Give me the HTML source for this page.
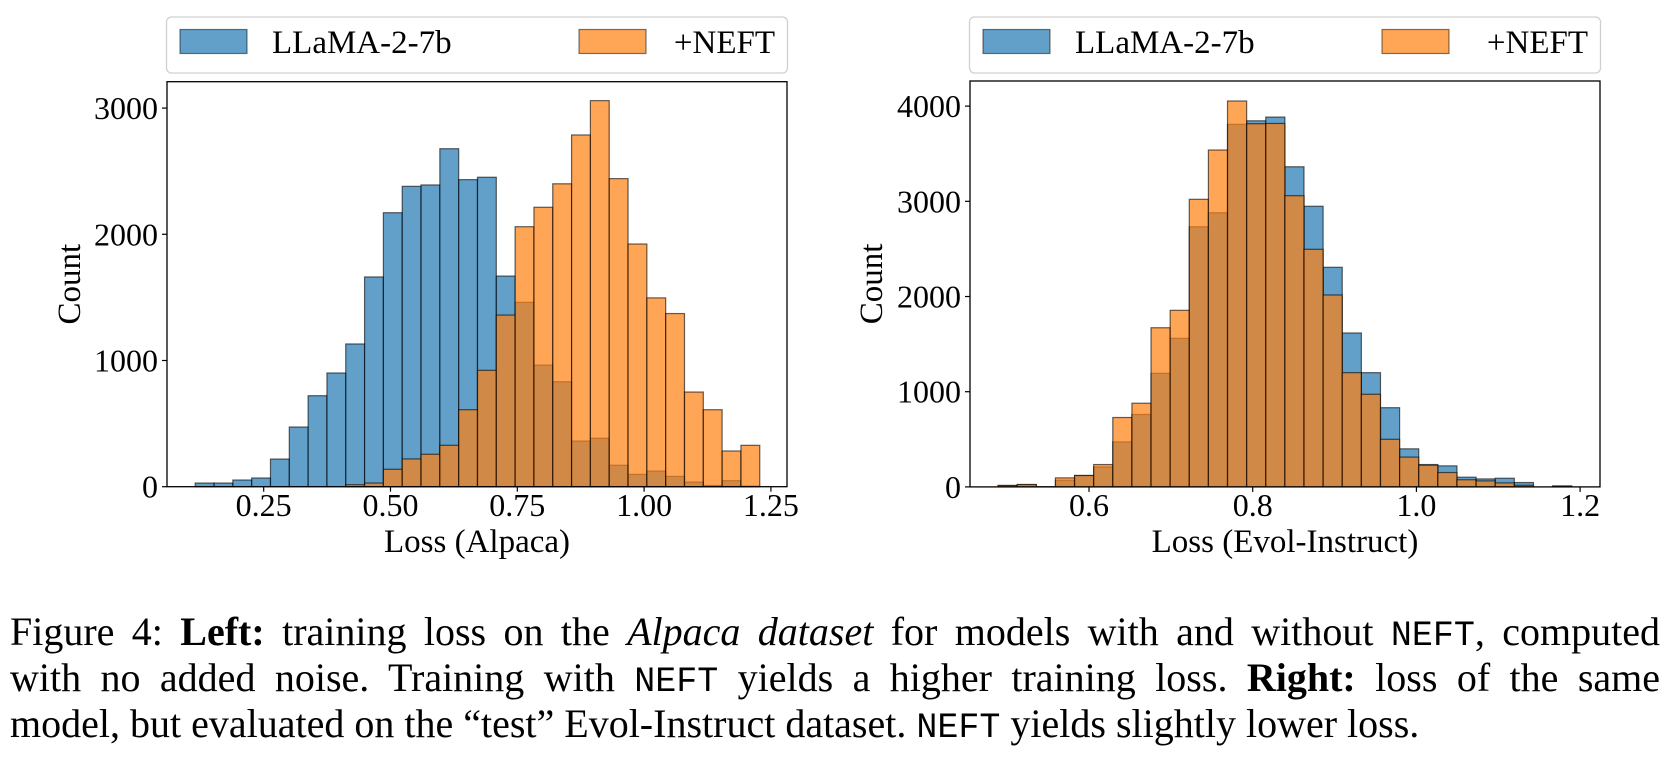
<!DOCTYPE html>
<html><head><meta charset="utf-8">
<style>
body{margin:0;background:#fff;width:1667px;height:761px;overflow:hidden;position:relative;font-family:"Liberation Serif","Times New Roman",serif;}
svg{position:absolute;left:0;top:0;font-family:"Liberation Serif","Times New Roman",serif;}
svg text{font-family:"Liberation Serif","Times New Roman",serif;}
.cap{position:absolute;left:10px;width:1650px;font-size:40px;line-height:46px;text-align:justify;text-align-last:justify;color:#000;}
.cap.last{text-align-last:left}
.mono{font-family:"Liberation Mono",monospace;font-size:35px}
</style></head>
<body>
<svg id="fig" width="1667" height="600" xmlns="http://www.w3.org/2000/svg"></svg>
<div class="cap" style="top:609px">Figure 4: <b>Left:</b> training loss on the <i>Alpaca dataset</i> for models with and without <span class="mono">NEFT</span>, computed</div>
<div class="cap" style="top:655px">with no added noise. Training with <span class="mono">NEFT</span> yields a higher training loss. <b>Right:</b> loss of the same</div>
<div class="cap last" style="top:701px">model, but evaluated on the “test” Evol-Instruct dataset. <span class="mono">NEFT</span> yields slightly lower loss.</div>
<script>
const leftBinStart = 0.115;
const leftBinWidth = 0.0371;
const leftBlue = [29,29,53,69,219,473,721,901,1131,1662,2171,2380,2391,2678,2433,2452,1669,1461,964,832,362,384,170,98,124,82,37,10,48,5];
const leftOrange = [0,0,0,0,0,0,0,0,16,29,138,220,257,328,610,922,1360,2060,2214,2400,2787,3059,2441,1923,1496,1372,750,610,283,328];
const leftXTicks = [0.25,0.5,0.75,1.0,1.25];
const leftXTickLabels = ["0.25","0.50","0.75","1.00","1.25"];
const leftYTicks = [0,1000,2000,3000];

const rightBinStart = 0.4889;
const rightBinWidth = 0.02336;
const rightBlue = [15,25,3,70,120,210,473,761,1193,1561,2733,2880,3809,3846,3885,3363,2948,2307,1617,1200,832,400,235,221,102,84,91,46,0,10];
const rightOrange = [15,25,0,95,120,235,729,879,1672,1855,3021,3539,4054,3815,3818,3059,2496,2016,1200,973,500,313,228,151,75,63,42,17,0,8];
const rightXTicks = [0.6,0.8,1.0,1.2];
const rightXTickLabels = ["0.6","0.8","1.0","1.2"];
const rightYTicks = [0,1000,2000,3000,4000];

const NS = "http://www.w3.org/2000/svg";
const svg = document.getElementById('fig');
function mk(tag, attrs, parent){const e=document.createElementNS(NS,tag);for(const k in attrs)e.setAttribute(k,attrs[k]);(parent||svg).appendChild(e);return e;}

function drawPanel(cfg){
  const g = mk('g',{});
  
  
  const X = v => cfg.px0 + (v - cfg.xmin)/(cfg.xmax - cfg.xmin)*(cfg.px1 - cfg.px0);
  const Y = c => cfg.py0 - c/cfg.ymax*(cfg.py0 - cfg.py1);
  const lg = mk('g',{},g);
  
  
  mk('rect',{x:cfg.px0-0.5,y:17,width:cfg.px1-cfg.px0+1,height:56,rx:5,fill:'#fff',stroke:'#d0d0d0','stroke-width':1.3},lg);
  const e1 = mk('rect',{x:cfg.px0+13,y:29.5,width:67,height:24,fill:'#1f77b4','fill-opacity':0.7,stroke:'#000','stroke-opacity':0.5,'stroke-width':1.2},lg);
  
  
  const t1 = mk('text',{x:cfg.px0+105,y:53,'font-size':33},lg); t1.textContent='LLaMA-2-7b';
  
  
  const e2 = mk('rect',{x:cfg.px0+412,y:29.5,width:67,height:24,fill:'#ff7f0e','fill-opacity':0.7,stroke:'#000','stroke-opacity':0.5,'stroke-width':1.2},lg);
  
  
  const t2 = mk('text',{x:cfg.px1-12,y:53,'font-size':33,'text-anchor':'end'},lg); t2.textContent='+NEFT';
  
  
  [[cfg.blue,'#1f77b4','bar-llama'],[cfg.orange,'#ff7f0e','bar-neft']].forEach(([arr,col,nm])=>{
    arr.forEach((c,i)=>{
      if(c<=0) return;
      const a = cfg.start + i*cfg.width, b = a + cfg.width;
      const r = mk('rect',{x:X(a),y:Y(c),width:X(b)-X(a),height:Y(0)-Y(c),fill:col,'fill-opacity':0.7,stroke:'#000','stroke-opacity':0.6,'stroke-width':1.2},g);
      
      
    });
  });
  const fr = mk('rect',{x:cfg.px0,y:cfg.py1,width:cfg.px1-cfg.px0,height:cfg.py0-cfg.py1,fill:'none',stroke:'#000','stroke-width':1.3},g);
  
  
  cfg.xticks.forEach((v,i)=>{
    mk('line',{x1:X(v),x2:X(v),y1:cfg.py0,y2:cfg.py0+5,stroke:'#000','stroke-width':1.2},g);
    const t = mk('text',{x:X(v),y:516,'font-size':32,'text-anchor':'middle'},g);
    t.textContent = cfg.xlabels[i];
    
    
  });
  cfg.yticks.forEach(v=>{
    mk('line',{x1:cfg.px0-5,x2:cfg.px0,y1:Y(v),y2:Y(v),stroke:'#000','stroke-width':1.2},g);
    const t = mk('text',{x:cfg.px0-9,y:Y(v)+11,'font-size':32,'text-anchor':'end'},g);
    t.textContent = String(v);
    
    
  });
  const xt = mk('text',{x:(cfg.px0+cfg.px1)/2,y:552,'font-size':33,'text-anchor':'middle'},g);
  xt.textContent = cfg.xtitle;
  
  
  const yt = mk('text',{x:0,y:0,'font-size':33,'text-anchor':'middle',transform:`translate(${cfg.ytx},${(cfg.py0+cfg.py1)/2}) rotate(-90)`},g);
  yt.textContent = 'Count';
  
  
}

drawPanel({name:'left-histogram',px0:167,px1:787,py0:486.7,py1:81.7,xmin:0.0594,xmax:1.2817,ymax:3209,
  start:leftBinStart,width:leftBinWidth,blue:leftBlue,orange:leftOrange,
  xticks:leftXTicks,xlabels:leftXTickLabels,yticks:leftYTicks,xtitle:'Loss (Alpaca)',ytx:80});
drawPanel({name:'right-histogram',px0:970,px1:1600,py0:486.9,py1:81,xmin:0.4546,xmax:1.2243,ymax:4264,
  start:rightBinStart,width:rightBinWidth,blue:rightBlue,orange:rightOrange,
  xticks:rightXTicks,xlabels:rightXTickLabels,yticks:rightYTicks,xtitle:'Loss (Evol-Instruct)',ytx:882});
</script>
</body></html>
